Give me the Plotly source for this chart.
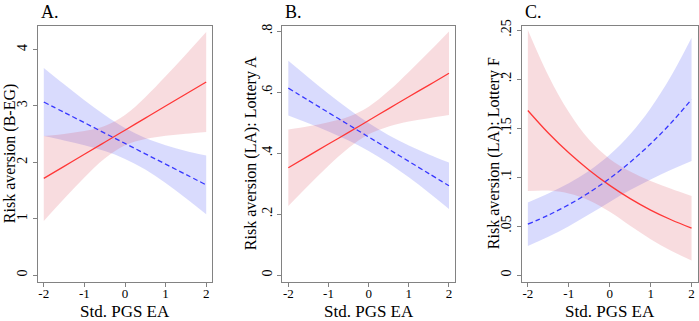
import plotly.graph_objects as go

# ---------------- data ----------------
x_pts = [-2, -1.5, -1, -0.5, 0, 0.5, 1, 1.5, 2]

# Panel A: Risk aversion (B-EG)
a_red = [1.715, 1.929, 2.143, 2.356, 2.570, 2.784, 2.998, 3.211, 3.425]
a_red_hi = [2.469, 2.504, 2.554, 2.644, 2.839, 3.155, 3.525, 3.914, 4.311]
a_red_lo = [0.961, 1.354, 1.732, 2.068, 2.301, 2.413, 2.471, 2.508, 2.539]
a_blue = [3.070, 2.886, 2.703, 2.519, 2.335, 2.151, 1.968, 1.784, 1.600]
a_blue_hi = [3.675, 3.384, 3.103, 2.839, 2.609, 2.431, 2.303, 2.203, 2.120]
a_blue_lo = [2.465, 2.388, 2.303, 2.199, 2.061, 1.871, 1.633, 1.365, 1.080]

# Panel B: Risk aversion (LA): Lottery A
b_red = [0.352, 0.391, 0.430, 0.468, 0.507, 0.546, 0.585, 0.623, 0.662]
b_red_hi = [0.4775, 0.4883, 0.5014, 0.5193, 0.5524, 0.6043, 0.6664, 0.7314, 0.799]
b_red_lo = [0.2265, 0.2937, 0.3586, 0.4167, 0.4616, 0.4877, 0.5036, 0.5146, 0.525]
b_blue = [0.613, 0.573, 0.533, 0.493, 0.453, 0.413, 0.373, 0.333, 0.293]
b_blue_hi = [0.7025, 0.648, 0.595, 0.5446, 0.4987, 0.4589, 0.4253, 0.3959, 0.369]
b_blue_lo = [0.5235, 0.498, 0.471, 0.4414, 0.4073, 0.3671, 0.3207, 0.2701, 0.217]

# Panel C: Risk aversion (LA): Lottery F
c_red = [0.168, 0.145, 0.1248, 0.1071, 0.0916, 0.0781, 0.0664, 0.0565, 0.0479]
c_red_hi = [0.2501, 0.2037, 0.1663, 0.138, 0.1186, 0.1058, 0.0961, 0.0882, 0.0807]
c_red_lo = [0.0859, 0.0863, 0.0833, 0.0762, 0.0646, 0.0504, 0.0367, 0.0248, 0.0151]
c_blue = [0.052, 0.0612, 0.0719, 0.0843, 0.0987, 0.1152, 0.134, 0.1553, 0.1793]
c_blue_hi = [0.0742, 0.0833, 0.0938, 0.1065, 0.1227, 0.1436, 0.1703, 0.2031, 0.2421]
c_blue_lo = [0.0298, 0.0391, 0.05, 0.0621, 0.0747, 0.0868, 0.0977, 0.1075, 0.1165]

x_ticks = [-2, -1, 0, 1, 2]
x_ticktext = ["-2", "-1", "0", "1", "2"]
a_ticks = [0, 1, 2, 3, 4]
a_ticktext = ["0", "1", "2", "3", "4"]
b_ticks = [0, 0.2, 0.4, 0.6, 0.8]
b_ticktext = ["0", ".2", ".4", ".6", ".8"]
c_ticks = [0, 0.05, 0.1, 0.15, 0.2, 0.25]
c_ticktext = ["0", ".05", ".1", ".15", ".2", ".25"]

panel_labels = ["A.", "B.", "C."]
y_titles = ["Risk aversion (B-EG)", "Risk aversion (LA): Lottery A", "Risk aversion (LA): Lottery F"]
x_title = "Std. PGS EA"

# ---------------- styling ----------------
W, H = 699, 321
FONT = "Liberation Serif, Times New Roman, Times, serif"
RED = "rgb(255,55,55)"
BLUE = "rgb(55,55,255)"
RED_FILL = "rgba(220,70,85,0.19)"
BLUE_FILL = "rgba(80,90,245,0.22)"
FRAME = "rgb(130,130,130)"

px_boxes = [(37.7, 212.3), (282.3, 455.0), (521.7, 697.7)]
y_dom = [1 - 281 / H, 1 - 20 / H]
y_ranges = [[-0.117, 4.424], [-0.0216, 0.818], [-0.0067, 0.2545]]
x_range = [-2.15, 2.15]

panels = [
    (a_red, a_red_hi, a_red_lo, a_blue, a_blue_hi, a_blue_lo, a_ticks, a_ticktext),
    (b_red, b_red_hi, b_red_lo, b_blue, b_blue_hi, b_blue_lo, b_ticks, b_ticktext),
    (c_red, c_red_hi, c_red_lo, c_blue, c_blue_hi, c_blue_lo, c_ticks, c_ticktext),
]

fig = go.Figure()
layout = {}
annotations = []

for i, (red, red_hi, red_lo, blue, blue_hi, blue_lo, yt, ytt) in enumerate(panels):
    n = "" if i == 0 else str(i + 1)
    xa, ya = "x" + n, "y" + n
    # blue band
    fig.add_trace(go.Scatter(x=x_pts, y=blue_lo, mode="lines", line=dict(width=0, shape="spline"),
                             hoverinfo="skip", showlegend=False, xaxis=xa, yaxis=ya))
    fig.add_trace(go.Scatter(x=x_pts, y=blue_hi, mode="lines", line=dict(width=0, shape="spline"),
                             fill="tonexty", fillcolor=BLUE_FILL, hoverinfo="skip",
                             showlegend=False, xaxis=xa, yaxis=ya))
    # red band
    fig.add_trace(go.Scatter(x=x_pts, y=red_lo, mode="lines", line=dict(width=0, shape="spline"),
                             hoverinfo="skip", showlegend=False, xaxis=xa, yaxis=ya))
    fig.add_trace(go.Scatter(x=x_pts, y=red_hi, mode="lines", line=dict(width=0, shape="spline"),
                             fill="tonexty", fillcolor=RED_FILL, hoverinfo="skip",
                             showlegend=False, xaxis=xa, yaxis=ya))
    # lines
    fig.add_trace(go.Scatter(x=x_pts, y=red, mode="lines",
                             line=dict(color=RED, width=1.3, shape="spline"),
                             showlegend=False, xaxis=xa, yaxis=ya))
    fig.add_trace(go.Scatter(x=x_pts, y=blue, mode="lines",
                             line=dict(color=BLUE, width=1.3, dash="5px,3px", shape="spline"),
                             showlegend=False, xaxis=xa, yaxis=ya))

    l, r = px_boxes[i]
    dom = [l / W, r / W]
    common = dict(showline=True, mirror=True, linecolor=FRAME, linewidth=1,
                  showgrid=False, zeroline=False, ticks="outside", ticklen=4,
                  tickcolor=FRAME, tickwidth=1)
    layout["xaxis" + n] = dict(domain=dom, range=x_range, anchor=ya, tickvals=x_ticks,
                               ticktext=x_ticktext, ticklabelstandoff=-4,
                               tickfont=dict(family=FONT, size=13, color="black"), **common)
    layout["yaxis" + n] = dict(domain=y_dom, range=y_ranges[i], anchor=xa, tickvals=yt,
                               ticktext=ytt, tickangle=-90,
                               tickfont=dict(family=FONT, size=14, color="black"), **common)

    annotations.append(dict(text=panel_labels[i], x=dom[0], y=1 - 18 / H, xref="paper", yref="paper",
                            xanchor="left", yanchor="bottom", showarrow=False,
                            font=dict(family=FONT, size=18, color="black"), xshift=1))
    annotations.append(dict(text=x_title, x=(dom[0] + dom[1]) / 2, y=1 - 311 / H,
                            xref="paper", yref="paper", xanchor="center", yanchor="middle",
                            showarrow=False, font=dict(family=FONT, size=17, color="black")))
    ytitle_x = [9.5, 250.5, 493.5][i]
    annotations.append(dict(text=y_titles[i], x=ytitle_x / W, y=(y_dom[0] + y_dom[1]) / 2,
                            xref="paper", yref="paper", xanchor="center", yanchor="middle",
                            textangle=-90, showarrow=False,
                            font=dict(family=FONT, size=16, color="black")))

fig.update_layout(width=W, height=H, margin=dict(l=0, r=0, t=0, b=0),
                  paper_bgcolor="white", plot_bgcolor="white",
                  annotations=annotations, **layout)

fig.write_html("out.html")
